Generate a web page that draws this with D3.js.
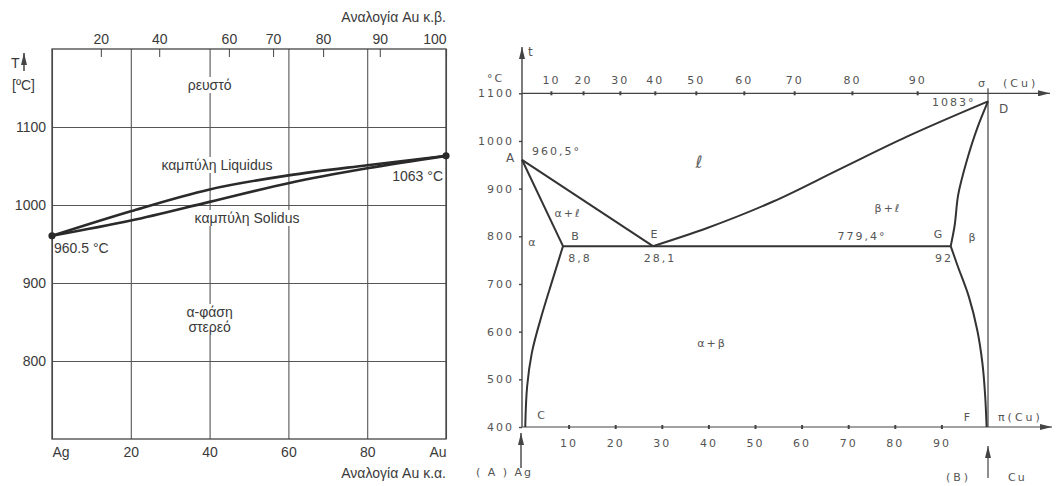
<!DOCTYPE html>
<html>
<head>
<meta charset="utf-8">
<script src="https://cdn.jsdelivr.net/npm/d3@7"></script>
<style>
  body { margin: 0; background: #fff; }
  .lt text { font-family: "Liberation Sans", Arial, sans-serif; font-size: 14px; fill: #3a3a3a; }
  .rt text { font-family: "DejaVu Sans", sans-serif; font-size: 11px; letter-spacing: 2px; fill: #555; }
</style>
</head>
<body>
<div id="plot"></div>
<script>
// ---------- data: left chart (Ag - Au) ----------
var leftYTicks = [800, 900, 1000, 1100];
var leftXTicks = [0, 20, 40, 60, 80, 100];
var leftXLabels = ["Ag", "20", "40", "60", "80", "Au"];
// weight-% labels on top, placed at their atomic-% position
var wtTickLabels = [20, 40, 60, 70, 80, 90, 100];
var wtTickAt = [12.4, 27.2, 44.9, 56.1, 68.8, 83.2, 100];
var liquidusX = [0, 20, 40, 60, 80, 100];
var liquidusT = [960.5, 992, 1020, 1038, 1051, 1063];
var solidusX = [0, 20, 40, 60, 80, 100];
var solidusT = [960.5, 980, 1004, 1028, 1047, 1063];

// ---------- data: right chart (Ag - Cu) ----------
var rightYTicks = [400, 500, 600, 700, 800, 900, 1000, 1100];
var rightXTicks = [10, 20, 30, 40, 50, 60, 70, 80, 90];
// atomic-% labels on top, placed at their weight-% position
var atTickLabels = [10, 20, 30, 40, 50, 60, 70, 80, 90];
var atTickAt = [6.2, 13.1, 21, 28.5, 37.3, 47.6, 58.4, 70.8, 84.8];
var liqAX = [0, 28.1],              liqAT = [960.5, 779.4];
var liqBX = [28.1, 39.6, 53.9, 68.2, 82.6, 100];
var liqBT = [779.4, 817, 873, 941, 1009, 1083];
var solAX = [0, 8.8],               solAT = [960.5, 779.4];
var solvAX = [8.8, 6.4, 4.4, 2.1, 1.1, 0.7];
var solvAT = [779.4, 704, 640, 555, 485, 400];
var eutX = [8.8, 92],               eutT = [779.4, 779.4];
var solBX = [92, 92.8, 93.6, 95.4, 97.7, 100];
var solBT = [779.4, 820, 887, 957, 1027, 1083];
var solvBX = [92, 93.3, 95.9, 97.7, 98.8, 99.4, 99.7];
var solvBT = [779.4, 743, 673, 603, 534, 464, 400];

var W = 1056, H = 486;
var svg = d3.select("#plot").append("svg")
    .attr("width", W)
    .attr("height", H);

var defs = svg.append("defs");
defs.append("marker").attr("id", "arr")
    .attr("viewBox", "0 0 12 6").attr("refX", 12).attr("refY", 3)
    .attr("markerWidth", 12).attr("markerHeight", 6)
    .attr("markerUnits", "userSpaceOnUse").attr("orient", "auto")
  .append("path").attr("d", "M0,0L12,3L0,6Z").attr("fill", "#444");

function pts(xs, ts) { return xs.map(function (d, i) { return [d, ts[i]]; }); }

// text with a white box behind it (labels cut through the grid)
function boxedText(g, x, y, str) {
  var t = g.append("text").attr("x", x).attr("y", y).attr("text-anchor", "middle").text(str);
  var b = t.node().getBBox();
  g.insert("rect", function () { return t.node(); })
    .attr("x", b.x - 3).attr("y", b.y).attr("width", b.width + 6).attr("height", b.height)
    .attr("fill", "#fff");
  return t;
}

// =============== LEFT CHART ===============
var L = {left: 52, right: 446, top: 49, bottom: 439};
var xL = d3.scaleLinear().domain([0, 100]).range([L.left, L.right]);
var yL = d3.scaleLinear().domain([700, 1200]).range([L.bottom, L.top]);
var gl = svg.append("g").attr("class", "lt");

// horizontal grid + temperature labels
gl.append("g").attr("transform", "translate(" + L.left + ",0)")
  .call(d3.axisLeft(yL).tickValues(leftYTicks).tickSize(-(L.right - L.left)).tickPadding(6).tickFormat(d3.format("d")))
  .call(function (g) { g.select(".domain").remove(); })
  .selectAll("line").attr("stroke", "#555").attr("stroke-width", 1.1);

// vertical grid + atomic-% labels
gl.append("g").attr("transform", "translate(0," + L.bottom + ")")
  .call(d3.axisBottom(xL).tickValues(leftXTicks).tickSize(-(L.bottom - L.top)).tickPadding(8)
    .tickFormat(function (d, i) { return leftXLabels[i]; }))
  .call(function (g) { g.select(".domain").remove(); })
  .call(function (g) {
    g.selectAll("line").attr("stroke", "#555").attr("stroke-width", 1.1);
    g.selectAll("text").attr("text-anchor", function (d, i) {
      return i == 0 ? "start" : (i == leftXTicks.length - 1 ? "end" : "middle");
    });
  });

// top weight-% axis
gl.append("g").attr("transform", "translate(0," + L.top + ")")
  .call(d3.axisTop(xL).tickValues(wtTickAt).tickSize(-8).tickPadding(5)
    .tickFormat(function (d, i) { return wtTickLabels[i]; }))
  .call(function (g) { g.select(".domain").remove(); })
  .call(function (g) {
    g.selectAll("line").attr("stroke", "#555").attr("stroke-width", 1.1);
    g.selectAll("text").attr("text-anchor", function (d, i) {
      return i == wtTickAt.length - 1 ? "end" : "middle";
    });
  });

// frame
gl.append("rect")
  .attr("x", L.left).attr("y", L.top)
  .attr("width", L.right - L.left).attr("height", L.bottom - L.top)
  .attr("fill", "none").attr("stroke", "#444").attr("stroke-width", 1.3);

// region labels
boxedText(gl, xL(40), 90, "ρευστό");
boxedText(gl, 217, 170, "καμπύλη Liquidus");
boxedText(gl, 247, 223, "καμπύλη Solidus");
boxedText(gl, xL(40), 317, "α-φάση");
boxedText(gl, xL(40), 332, "στερεό");

// liquidus / solidus
var lineL = d3.line().x(function (d) { return xL(d[0]); }).y(function (d) { return yL(d[1]); })
  .curve(d3.curveMonotoneX);
gl.append("path").datum(pts(liquidusX, liquidusT)).attr("d", lineL)
  .attr("fill", "none").attr("stroke", "#2a2a2a").attr("stroke-width", 2.6);
gl.append("path").datum(pts(solidusX, solidusT)).attr("d", lineL)
  .attr("fill", "none").attr("stroke", "#2a2a2a").attr("stroke-width", 2.6);
gl.selectAll(".melt").data([[0, liquidusT[0]], [100, liquidusT[liquidusT.length - 1]]]).enter()
  .append("circle").attr("class", "melt")
  .attr("cx", function (d) { return xL(d[0]); }).attr("cy", function (d) { return yL(d[1]); })
  .attr("r", 3.6).attr("fill", "#2a2a2a");

gl.append("text").attr("x", 54).attr("y", 253).text("960.5 °C");
gl.append("text").attr("x", 443).attr("y", 181).attr("text-anchor", "end").text("1063 °C");

// axis titles
gl.append("text").attr("x", L.right).attr("y", 22).attr("text-anchor", "end").text("Αναλογία Au κ.β.");
gl.append("text").attr("x", L.right).attr("y", 478).attr("text-anchor", "end").text("Αναλογία Au κ.α.");
gl.append("text").attr("x", 11).attr("y", 68).text("T");
gl.append("line").attr("x1", 24).attr("x2", 24).attr("y1", 71).attr("y2", 53)
  .attr("stroke", "#444").attr("stroke-width", 1.5).attr("marker-end", "url(#arr)");
gl.append("text").attr("x", 12).attr("y", 90).text("[ºC]");

// =============== RIGHT CHART ===============
var R = {left: 522, right: 988, top: 93.3, bottom: 427};
var xR = d3.scaleLinear().domain([0, 100]).range([R.left, R.right]);
var yR = d3.scaleLinear().domain([400, 1100]).range([R.bottom, R.top]);
var gr = svg.append("g").attr("class", "rt");

// axes lines with arrows
gr.append("line").attr("x1", R.left).attr("x2", R.left).attr("y1", R.bottom).attr("y2", 47)
  .attr("stroke", "#444").attr("stroke-width", 1.4).attr("marker-end", "url(#arr)");
gr.append("line").attr("x1", R.left).attr("x2", 1050).attr("y1", R.top).attr("y2", R.top)
  .attr("stroke", "#444").attr("stroke-width", 1.2).attr("marker-end", "url(#arr)");
gr.append("line").attr("x1", R.left).attr("x2", 1052).attr("y1", R.bottom).attr("y2", R.bottom)
  .attr("stroke", "#444").attr("stroke-width", 1.2).attr("marker-end", "url(#arr)");
gr.append("line").attr("x1", R.right).attr("x2", R.right).attr("y1", R.top - 5).attr("y2", R.bottom)
  .attr("stroke", "#444").attr("stroke-width", 1.2);

// temperature ticks
gr.append("g").attr("transform", "translate(" + R.left + ",0)")
  .call(d3.axisLeft(yR).tickValues(rightYTicks).tickSize(3).tickPadding(5).tickFormat(d3.format("d")))
  .call(function (g) { g.select(".domain").remove(); })
  .selectAll("line").attr("stroke", "#444").attr("stroke-width", 1.4);

// top atomic-% ticks
gr.append("g").attr("transform", "translate(0," + R.top + ")")
  .call(d3.axisTop(xR).tickValues(atTickAt).tickSize(2).tickPadding(7)
    .tickFormat(function (d, i) { return atTickLabels[i]; }))
  .call(function (g) { g.select(".domain").remove(); })
  .selectAll("line").attr("stroke", "#444").attr("stroke-width", 2).attr("y2", 2).attr("y1", -2);

// bottom weight-% ticks
gr.append("g").attr("transform", "translate(0," + R.bottom + ")")
  .call(d3.axisBottom(xR).tickValues(rightXTicks).tickSize(2).tickPadding(10))
  .call(function (g) { g.select(".domain").remove(); })
  .selectAll("line").attr("stroke", "#444").attr("stroke-width", 2).attr("y1", -2);

// phase boundaries: straight ones, curves along x, curves along y
var lineR = d3.line().x(function (d) { return xR(d[0]); }).y(function (d) { return yR(d[1]); });
var curveX = d3.line().x(function (d) { return xR(d[0]); }).y(function (d) { return yR(d[1]); })
  .curve(d3.curveMonotoneX);
var curveY = d3.line().x(function (d) { return xR(d[0]); }).y(function (d) { return yR(d[1]); })
  .curve(d3.curveMonotoneY);
function byTempDown(p) { return p.slice().sort(function (a, b) { return b[1] - a[1]; }); }

[[pts(liqAX, liqAT), lineR], [pts(solAX, solAT), lineR], [pts(eutX, eutT), lineR],
 [pts(liqBX, liqBT), curveX],
 [byTempDown(pts(solvAX, solvAT)), curveY],
 [byTempDown(pts(solBX, solBT)), curveY],
 [byTempDown(pts(solvBX, solvBT)), curveY]]
  .forEach(function (s) {
    gr.append("path").datum(s[0]).attr("d", s[1])
      .attr("fill", "none").attr("stroke", "#333").attr("stroke-width", 2)
      .attr("stroke-linejoin", "round");
  });

// labels
function rtext(x, y, str, anchor, size) {
  var t = gr.append("text").attr("x", x).attr("y", y).attr("text-anchor", anchor || "start").text(str);
  if (size) t.style("font-size", size + "px");
  return t;
}
rtext(528, 56, "t", "start", 12);
rtext(487, 82, "°C");
rtext(978, 87, "σ");
rtext(1003, 87, "(Cu)").style("letter-spacing", "3px");
rtext(932, 106, "1083°");
rtext(999, 113, "D", "start", 12);
rtext(506, 162, "A", "start", 12);
rtext(532, 155, "960,5°");
rtext(700, 168, "ℓ", "middle", 17).style("font-style", "italic").style("fill", "#666");
rtext(568, 217, "α+ℓ", "middle");
rtext(533, 246, "α", "middle");
rtext(576, 240, "B", "middle");
rtext(580, 262, "8,8", "middle");
rtext(655, 238, "E", "middle");
rtext(660, 262, "28,1", "middle");
rtext(888, 212, "β+ℓ", "middle");
rtext(862, 240, "779,4°", "middle");
rtext(939, 238, "G", "middle");
rtext(944, 262, "92", "middle");
rtext(973, 241, "β", "middle");
rtext(712, 347, "α+β", "middle");
rtext(542, 419, "C", "middle");
rtext(968, 421, "F", "middle");
rtext(998, 421, "π(Cu)").style("letter-spacing", "3px");
rtext(476, 476, "( A )  Ag");
rtext(946, 481, "(B)").style("letter-spacing", "3px");
rtext(1008, 481, "Cu");

gr.append("line").attr("x1", R.left - 1).attr("x2", R.left - 1).attr("y1", 468).attr("y2", 433)
  .attr("stroke", "#444").attr("stroke-width", 1.4).attr("marker-end", "url(#arr)");
gr.append("line").attr("x1", R.right).attr("x2", R.right).attr("y1", 478).attr("y2", 446)
  .attr("stroke", "#444").attr("stroke-width", 1.2).attr("marker-end", "url(#arr)");
</script>
</body>
</html>
